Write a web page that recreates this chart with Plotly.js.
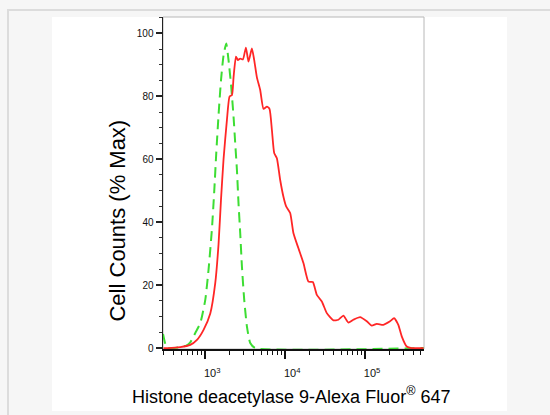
<!DOCTYPE html>
<html><head><meta charset="utf-8">
<script src="https://cdn.plot.ly/plotly-3.0.1.min.js"></script>
<style>
html,body{margin:0;padding:0;width:550px;height:415px;overflow:hidden;background:#f6f6f6;}
#frameTop{position:absolute;left:7px;top:9px;width:543px;height:2px;background:#dcdcdc;}
#frameLeft{position:absolute;left:7px;top:9px;width:2px;height:406px;background:#dcdcdc;}
#card{position:absolute;left:52px;top:17px;width:455px;height:394px;background:#fff;}
#chart{position:absolute;left:0;top:0;width:550px;height:415px;}
</style></head><body>
<div id="frameTop"></div><div id="frameLeft"></div><div id="card"></div>
<div id="chart"></div>
<script>
// Sample (red, solid)
var sampleX = [300, 345, 487, 649, 787, 952, 1155, 1334, 1466, 1572, 1693, 1867, 2013, 2158, 2259, 2421, 2565, 2738, 2958, 3226, 3476, 3834, 4098, 4428, 4870, 5356, 5904, 6366, 6823, 7288, 7874, 8660, 9527, 10290, 11550, 12700, 14660, 16930, 19550, 22190, 24900, 28770, 33200, 40180, 46370, 53550, 61810, 71450, 86600, 105000, 121300, 140000, 169300, 205400, 230500, 260700, 287700, 332000, 383500, 540000];
var sampleY = [0, 0, 0.3, 1, 2.6, 5.8, 11, 20.7, 33, 47, 60, 72.5, 79.9, 80.4, 86, 92.6, 91.5, 92, 91.7, 95.5, 91, 95.2, 91.5, 86, 82, 76, 76.7, 76, 69.3, 62, 60.3, 53.4, 48, 45, 42.9, 36.5, 31.7, 27, 21.1, 21, 16.9, 14.8, 11.1, 8.8, 9, 10.3, 8.1, 9, 9.8, 8.5, 7.1, 7.7, 7.4, 8.5, 9.5, 7.4, 3.7, 0.5, 0, 0];
// Control (green, dashed)
var controlX = [296, 331, 400, 487, 580, 649, 750, 866, 1000, 1100, 1213, 1296, 1373, 1466, 1572, 1693, 1830, 1955, 2113, 2259, 2371, 2490, 2606, 2738, 2876, 3073, 3320, 3652, 4217, 540000];
var controlY = [4.5, 0, 0, 0.3, 0.8, 1.8, 4.8, 7.9, 15.3, 25, 38, 50, 62, 74, 85, 93, 96.8, 91.5, 83, 73.5, 65, 56.6, 46, 36.5, 25.9, 15.3, 6.9, 1.6, 0, 0];

var xTickVals = [1e3, 1e4, 1e5];
var xTickText = ['10<sup>3</sup>', '10<sup>4</sup>', '10<sup>5</sup>'];
var yTickVals = [0, 20, 40, 60, 80, 100];
var yTickText = ['0', '20', '40', '60', '80', '100'];

var xMinor = [];
[100, 1000, 10000, 100000].forEach(function (d) {
  for (var k = 2; k <= 9; k++) xMinor.push(k * d);
});

var lblFont = 'Liberation Sans, Arial, sans-serif';

var traces = [
  {x: controlX, y: controlY, type: 'scatter', mode: 'lines',
   line: {color: '#3ddd33', width: 2, dash: '10px,6px', shape: 'spline', smoothing: 0.5},
   hoverinfo: 'skip'},
  {x: sampleX, y: sampleY, type: 'scatter', mode: 'lines',
   line: {color: '#ff2626', width: 1.8, shape: 'spline', smoothing: 0.5},
   hoverinfo: 'skip'}
];

var layout = {
  width: 550, height: 415,
  margin: {l: 163, r: 126, t: 17, b: 66, pad: 0},
  paper_bgcolor: 'rgba(0,0,0,0)',
  plot_bgcolor: 'rgba(0,0,0,0)',
  showlegend: false,
  xaxis: {
    type: 'log', range: [2.471, 5.7375],
    tickmode: 'array', tickvals: xTickVals, ticktext: xTickText,
    ticks: 'outside', ticklen: 8, tickwidth: 2, tickcolor: '#111',
    showline: true, linecolor: '#111', linewidth: 2,
    showgrid: false, zeroline: false,
    tickfont: {family: lblFont, size: 11, color: '#111'},
    ticklabelshift: 7, ticklabelstandoff: 5,
    minor: {tickmode: 'array', tickvals: xMinor, ticks: 'outside', ticklen: 4, tickwidth: 1, tickcolor: '#111', showgrid: false}
  },
  yaxis: {
    range: [-0.3, 105.2],
    tickmode: 'array', tickvals: yTickVals, ticktext: yTickText,
    ticks: 'outside', ticklen: 6, tickwidth: 2, tickcolor: '#222',
    showline: true, linecolor: '#222', linewidth: 1.5,
    showgrid: false, zeroline: false,
    tickfont: {family: lblFont, size: 10, color: '#111'},
    minor: {tickmode: 'linear', tick0: 0, dtick: 5, ticks: 'outside', ticklen: 3, tickwidth: 1, tickcolor: '#333', showgrid: false}
  },
  shapes: [
    {type: 'rect', xref: 'paper', yref: 'paper', x0: 0, x1: 1, y0: 0, y1: 1,
     line: {color: '#b8b8b8', width: 1}, layer: 'below'}
  ],
  annotations: [
    {text: 'Cell Counts (% Max)', xref: 'paper', yref: 'paper',
     x: -0.1724, y: 0.387, xanchor: 'center', yanchor: 'middle',
     textangle: -90, showarrow: false,
     font: {family: lblFont, size: 22, color: '#000'}},
    {text: 'Histone deacetylase 9-Alexa Fluor<sup>®</sup> 647', xref: 'paper', yref: 'paper',
     x: 0.4923, y: -0.1386, xanchor: 'center', yanchor: 'middle',
     showarrow: false,
     font: {family: lblFont, size: 18, color: '#000'}}
  ]
};

Plotly.newPlot('chart', traces, layout, {staticPlot: true, displayModeBar: false});
</script></body></html>
